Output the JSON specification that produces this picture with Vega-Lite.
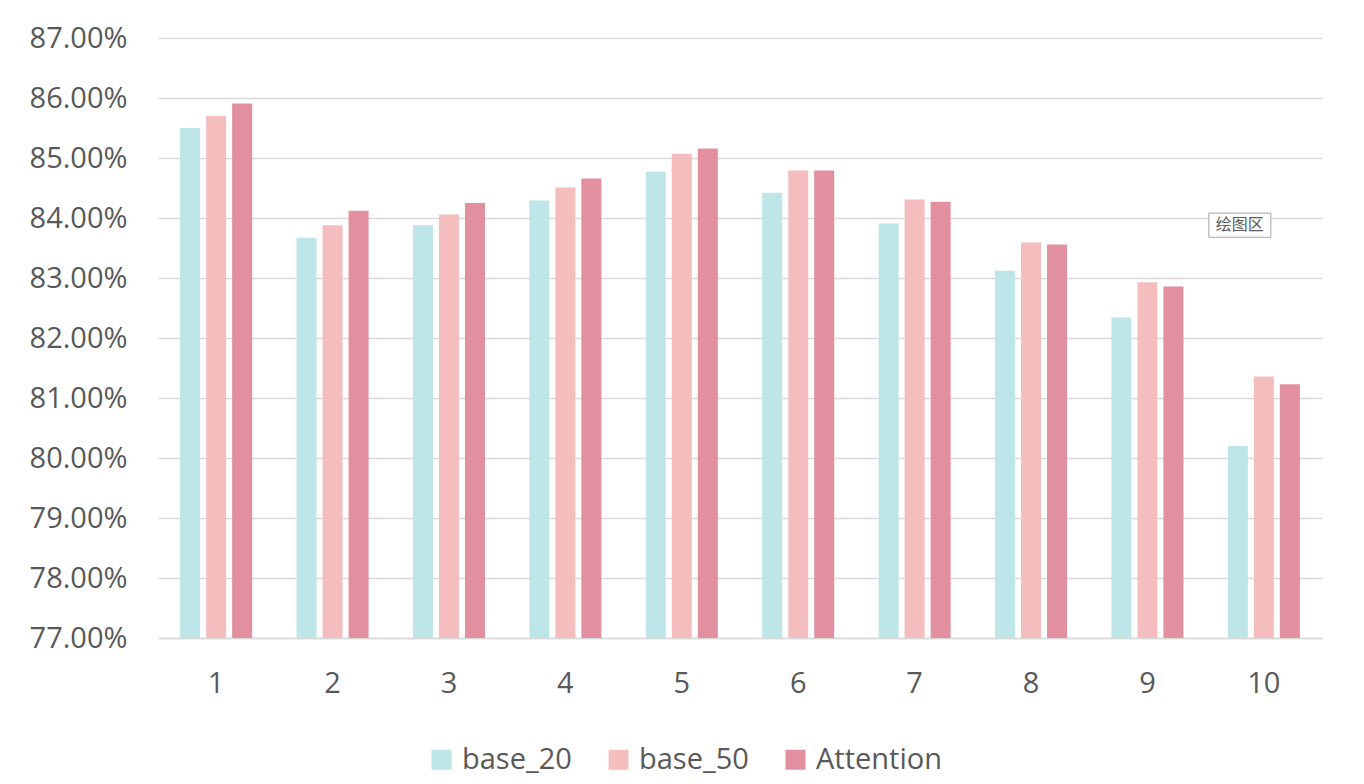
{
  "$schema": "https://vega.github.io/schema/vega-lite/v6.json",
  "width": 1164,
  "height": 600,
  "autosize": "none",
  "padding": {"left": 158, "top": 38, "right": 42, "bottom": 146},
  "background": "white",
  "config": {
    "font": "Open Sans",
    "view": {"stroke": null}
  },
  "datasets": {
    "bars": [
      {"group": "1", "series": "base_20", "value": 0.8550},
      {"group": "1", "series": "base_50", "value": 0.8570},
      {"group": "1", "series": "Attention", "value": 0.8591},
      {"group": "2", "series": "base_20", "value": 0.8367},
      {"group": "2", "series": "base_50", "value": 0.8388},
      {"group": "2", "series": "Attention", "value": 0.8412},
      {"group": "3", "series": "base_20", "value": 0.8388},
      {"group": "3", "series": "base_50", "value": 0.8406},
      {"group": "3", "series": "Attention", "value": 0.8425},
      {"group": "4", "series": "base_20", "value": 0.8429},
      {"group": "4", "series": "base_50", "value": 0.8451},
      {"group": "4", "series": "Attention", "value": 0.8466},
      {"group": "5", "series": "base_20", "value": 0.8477},
      {"group": "5", "series": "base_50", "value": 0.8507},
      {"group": "5", "series": "Attention", "value": 0.8516},
      {"group": "6", "series": "base_20", "value": 0.8442},
      {"group": "6", "series": "base_50", "value": 0.8479},
      {"group": "6", "series": "Attention", "value": 0.8479},
      {"group": "7", "series": "base_20", "value": 0.8391},
      {"group": "7", "series": "base_50", "value": 0.8431},
      {"group": "7", "series": "Attention", "value": 0.8427},
      {"group": "8", "series": "base_20", "value": 0.8312},
      {"group": "8", "series": "base_50", "value": 0.8359},
      {"group": "8", "series": "Attention", "value": 0.8356},
      {"group": "9", "series": "base_20", "value": 0.8234},
      {"group": "9", "series": "base_50", "value": 0.8293},
      {"group": "9", "series": "Attention", "value": 0.8286},
      {"group": "10", "series": "base_20", "value": 0.8020},
      {"group": "10", "series": "base_50", "value": 0.8136},
      {"group": "10", "series": "Attention", "value": 0.8123}
    ],
    "note": [
      {"group": "10", "value": 0.8388, "label": "绘图区"}
    ]
  },
  "layer": [
    {
      "data": {"name": "bars"},
      "mark": {"type": "bar"},
      "encoding": {
        "x": {
          "field": "group",
          "type": "ordinal",
          "sort": ["1","2","3","4","5","6","7","8","9","10"],
          "scale": {"domain": ["1","2","3","4","5","6","7","8","9","10"], "paddingInner": 0.381, "paddingOuter": 0.19},
          "axis": {
            "title": null,
            "labelAngle": 0,
            "labelFontSize": 29,
            "labelColor": "#595959",
            "labelPadding": 31,
            "ticks": false,
            "domainColor": "#d9d9d9",
            "domainWidth": 1.5,
            "grid": false
          }
        },
        "xOffset": {
          "field": "series",
          "type": "nominal",
          "sort": ["base_20", "base_50", "Attention"],
          "scale": {"paddingInner": 0.23, "paddingOuter": 0}
        },
        "y": {
          "field": "value",
          "type": "quantitative",
          "scale": {"domain": [0.77, 0.87], "zero": false, "clamp": true},
          "axis": {
            "title": null,
            "format": ".2%",
            "values": [0.77, 0.78, 0.79, 0.80, 0.81, 0.82, 0.83, 0.84, 0.85, 0.86, 0.87],
            "labelFontSize": 29,
            "labelColor": "#595959",
            "labelPadding": 31,
            "ticks": false,
            "domain": false,
            "grid": true,
            "gridColor": "#d9d9d9",
            "gridWidth": 1.5
          }
        },
        "color": {
          "field": "series",
          "type": "nominal",
          "sort": ["base_20", "base_50", "Attention"],
          "scale": {
            "domain": ["base_20", "base_50", "Attention"],
            "range": ["#BEE6E8", "#F4BEBF", "#E28FA0"]
          },
          "legend": {
            "title": null,
            "orient": "none",
            "direction": "horizontal",
            "legendX": 269,
            "legendY": 707,
            "symbolType": "square",
            "symbolSize": 400,
            "symbolStrokeWidth": 0,
            "labelFontSize": 29,
            "labelColor": "#595959",
            "labelOffset": 6,
            "columnPadding": 32
          }
        }
      }
    },
    {
      "data": {"name": "note"},
      "mark": {
        "type": "point",
        "shape": "M-1,-0.39H1V0.39H-1Z",
        "filled": true,
        "fill": "white",
        "stroke": "#a6a6a6",
        "strokeWidth": 1,
        "size": 3844,
        "opacity": 1,
        "xOffset": -24
      },
      "encoding": {
        "x": {"field": "group", "type": "ordinal", "sort": ["1","2","3","4","5","6","7","8","9","10"]},
        "y": {"field": "value", "type": "quantitative"}
      }
    },
    {
      "data": {"name": "note"},
      "mark": {
        "type": "text",
        "fontSize": 16,
        "color": "#595959",
        "font": "Noto Sans CJK SC",
        "dx": -24
      },
      "encoding": {
        "x": {"field": "group", "type": "ordinal", "sort": ["1","2","3","4","5","6","7","8","9","10"]},
        "y": {"field": "value", "type": "quantitative"},
        "text": {"field": "label"}
      }
    }
  ]
}
